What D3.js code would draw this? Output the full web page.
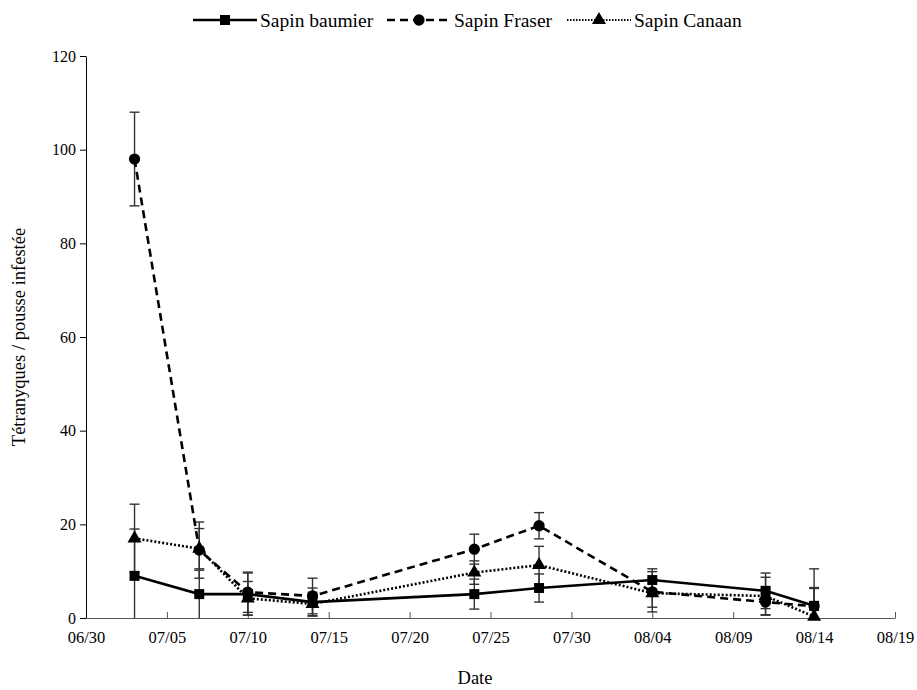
<!DOCTYPE html>
<html>
<head>
<meta charset="utf-8">
<script src="https://cdn.jsdelivr.net/npm/d3@7"></script>
<style>
  body { margin: 0; background: #fff; }
  text { font-family: "Liberation Serif", "Times New Roman", serif; }
</style>
</head>
<body>
<div id="chart"></div>
<script>
// data
const dates = ["07/03", "07/07", "07/10", "07/14", "07/24", "07/28", "08/04", "08/11", "08/14"];
const baumier = [9.0, 5.1, 5.1, 3.4, 5.1, 6.4, 8.1, 5.8, 2.6];
const baumierErr = [10.0, 5.1, 4.5, 3.0, 3.2, 3.0, 2.4, 3.8, 7.9];
const fraser = [98.0, 14.5, 5.5, 4.7, 14.7, 19.7, 5.6, 3.4, 2.5];
const fraserErr = [10.0, 6.0, 4.3, 3.8, 3.2, 2.8, 4.3, 2.8, 4.0];
const canaan = [17.0, 14.8, 4.2, 3.0, 9.7, 11.3, 5.3, 4.7, 0.3];
const canaanErr = [7.3, 4.3, 3.6, 2.5, 2.5, 4.0, 3.0, 4.0, 6.0];
const xTicks = ["06/30", "07/05", "07/10", "07/15", "07/20", "07/25", "07/30", "08/04", "08/09", "08/14", "08/19"];
const yTicks = [0, 20, 40, 60, 80, 100, 120];

const width = 917, height = 690;
const margin = { top: 56, right: 22, bottom: 72, left: 86 };

const parse = s => d3.timeParse("%Y/%m/%d")("2000/" + s);

const svg = d3.select("#chart").append("svg")
    .attr("width", width)
    .attr("height", height);

const x = d3.scaleTime()
    .domain([parse(xTicks[0]), parse(xTicks[xTicks.length - 1])])
    .range([margin.left, width - margin.right]);

const y = d3.scaleLinear()
    .domain([0, 120])
    .range([height - margin.bottom, margin.top]);

// axes
const xAxis = svg.append("g")
    .attr("transform", `translate(0,${height - margin.bottom})`)
    .call(d3.axisBottom(x)
        .tickValues(xTicks.map(parse))
        .tickFormat(d3.timeFormat("%m/%d"))
        .tickSizeInner(-6).tickSizeOuter(0).tickPadding(13));
xAxis.selectAll("text").attr("font-size", 16.5).attr("fill", "#000")
    .style("font-family", '"Liberation Serif", serif');
xAxis.selectAll("line, path").attr("stroke", "#555");

const yAxis = svg.append("g")
    .attr("transform", `translate(${margin.left},0)`)
    .call(d3.axisLeft(y).tickValues(yTicks).tickSizeInner(6).tickSizeOuter(0).tickPadding(4));
yAxis.selectAll("text").attr("font-size", 16).attr("fill", "#000")
    .style("font-family", '"Liberation Serif", serif');
yAxis.selectAll("line, path").attr("stroke", "#000");

svg.append("text")
    .attr("transform", `translate(25,${(margin.top + height - margin.bottom) / 2}) rotate(-90)`)
    .attr("text-anchor", "middle")
    .attr("font-size", 18.5)
    .text("Tétranyques / pousse infestée");

svg.append("text")
    .attr("x", 475)
    .attr("y", height - 6)
    .attr("text-anchor", "middle")
    .attr("font-size", 18.5)
    .text("Date");

const series = [
    { name: "Sapin baumier", values: baumier, err: baumierErr, dash: null, marker: d3.symbolSquare, size: 100 },
    { name: "Sapin Fraser", values: fraser, err: fraserErr, dash: "8,5", marker: d3.symbolCircle, size: 100 },
    { name: "Sapin Canaan", values: canaan, err: canaanErr, dash: "2,2", marker: d3.symbolTriangle, size: 85 }
];

const line = d3.line()
    .x(d => x(parse(d.date)))
    .y(d => y(d.value));

// error bars
series.forEach(s => {
    const pts = dates.map((d, i) => ({ date: d, value: s.values[i], err: s.err[i] }));
    const g = svg.append("g").attr("stroke", "#333").attr("stroke-width", 1.4);
    pts.forEach(p => {
        const cx = x(parse(p.date));
        const lo = y(Math.max(0, p.value - p.err));
        const hi = y(p.value + p.err);
        g.append("line").attr("x1", cx).attr("x2", cx).attr("y1", lo).attr("y2", hi);
        g.append("line").attr("x1", cx - 5).attr("x2", cx + 5).attr("y1", hi).attr("y2", hi);
        if (p.value - p.err > 0)
            g.append("line").attr("x1", cx - 5).attr("x2", cx + 5).attr("y1", lo).attr("y2", lo);
    });
});

// lines and markers
series.forEach(s => {
    const pts = dates.map((d, i) => ({ date: d, value: s.values[i] }));
    svg.append("path")
        .datum(pts)
        .attr("fill", "none")
        .attr("stroke", "#000")
        .attr("stroke-width", 2.6)
        .attr("stroke-dasharray", s.dash)
        .attr("d", line);
    svg.selectAll(null)
        .data(pts)
        .enter()
        .append("path")
        .attr("transform", d => `translate(${x(parse(d.date))},${y(d.value)})`)
        .attr("d", d3.symbol().type(s.marker).size(s.size))
        .attr("fill", "#000");
});

// legend
const legendX = [193, 387, 567];
series.forEach((s, i) => {
    const g = svg.append("g").attr("transform", `translate(${legendX[i]},20)`);
    g.append("line")
        .attr("x1", 0).attr("x2", 64)
        .attr("stroke", "#000").attr("stroke-width", i === 2 ? 2 : 2.6)
        .attr("stroke-dasharray", i === 2 ? "1.5,1.5" : s.dash);
    g.append("path")
        .attr("transform", "translate(32,0)")
        .attr("d", d3.symbol().type(s.marker).size(s.size))
        .attr("fill", "#000");
    g.append("text")
        .attr("x", 67).attr("y", 6.5)
        .attr("font-size", 19.5)
        .text(s.name);
});
</script>
</body>
</html>
